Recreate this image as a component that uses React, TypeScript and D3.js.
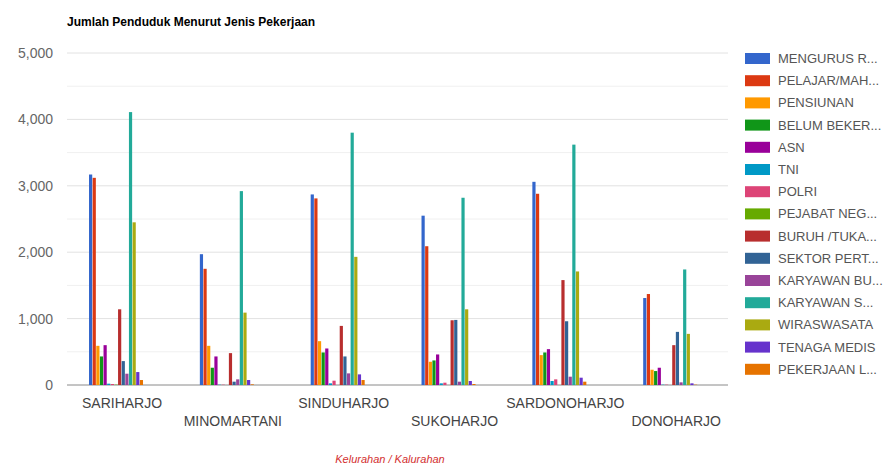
import React from "react";
import * as d3 from "d3";

const categories = ["SARIHARJO", "MINOMARTANI", "SINDUHARJO", "SUKOHARJO", "SARDONOHARJO", "DONOHARJO"];

const seriesNames = [
  "MENGURUS R...", "PELAJAR/MAH...", "PENSIUNAN", "BELUM BEKER...", "ASN", "TNI", "POLRI",
  "PEJABAT NEG...", "BURUH /TUKA...", "SEKTOR PERT...", "KARYAWAN BU...", "KARYAWAN S...",
  "WIRASWASATA", "TENAGA MEDIS", "PEKERJAAN L...",
];

const seriesColors = [
  "#3366cc", "#dc3912", "#ff9900", "#109618", "#990099", "#0099c6", "#dd4477",
  "#66aa00", "#b82e2e", "#316395", "#994499", "#22aa99", "#aaaa11", "#6633cc", "#e67300",
];

// values[category][series]
const sariharjo = [3170, 3120, 590, 430, 600, 20, 15, 5, 1140, 360, 170, 4110, 2450, 195, 75];
const minomartani = [1970, 1750, 590, 260, 430, 5, 5, 0, 480, 50, 85, 2920, 1090, 75, 10];
const sinduharjo = [2870, 2810, 660, 490, 550, 25, 65, 0, 890, 430, 175, 3800, 1930, 160, 75];
const sukoharjo = [2550, 2090, 350, 370, 460, 25, 35, 0, 975, 980, 50, 2820, 1140, 60, 15];
const sardonoharjo = [3060, 2880, 450, 490, 540, 60, 85, 0, 1580, 960, 125, 3620, 1710, 110, 50];
const donoharjo = [1310, 1370, 230, 210, 260, 5, 5, 0, 600, 800, 40, 1740, 770, 25, 5];

const values = [sariharjo, minomartani, sinduharjo, sukoharjo, sardonoharjo, donoharjo];

const majorTicks = [0, 1000, 2000, 3000, 4000, 5000];
const minorTicks = [500, 1500, 2500, 3500, 4500];

const titleText = "Jumlah Penduduk Menurut Jenis Pekerjaan";
const xAxisTitle = "Kelurahan / Kalurahan";

const FONT = "'Liberation Sans', Arial, Helvetica, sans-serif";

export default function App() {
  const width = 896;
  const height = 466;
  const plotLeft = 67;
  const plotRight = 728;

  const y = d3.scaleLinear().domain([0, 5000]).range([385, 53]);
  const x = d3.scaleBand<string>().domain(categories).range([60.6, 725.6]);
  const inner = d3
    .scaleBand<number>()
    .domain(d3.range(seriesNames.length))
    .range([-27, 27])
    .paddingInner(0.12);
  const fmt = d3.format(",");

  const legendY = d3.scaleLinear().domain([0, 1]).range([58, 80.2]);

  return (
    <div style={{ position: "fixed", left: 0, top: 0, width, height, overflow: "hidden" }}>
      <svg width={width} height={height} style={{ display: "block", background: "#fff" }} fontFamily={FONT}>
        <text x={67} y={26} fontSize={12} fontWeight="bold" fill="#000">
          {titleText}
        </text>

        {minorTicks.map((t) => (
          <line key={"m" + t} x1={plotLeft} x2={plotRight} y1={y(t)} y2={y(t)} stroke="#f0f0f0" strokeWidth={1} />
        ))}
        {majorTicks.map((t) => (
          <line
            key={"M" + t}
            x1={plotLeft}
            x2={plotRight}
            y1={y(t)}
            y2={y(t)}
            stroke={t === 0 ? "#8a8a8a" : "#e2e2e2"}
            strokeWidth={1}
          />
        ))}
        {majorTicks.map((t) => (
          <text key={"l" + t} x={53} y={y(t) + 5} textAnchor="end" fontSize={14} fill="#666">
            {fmt(t)}
          </text>
        ))}

        {categories.map((c, ci) =>
          values[ci].map((v, si) => (
            <rect
              key={c + si}
              x={(x(c) as number) + x.bandwidth() / 2 + (inner(si) as number)}
              y={y(v)}
              width={inner.bandwidth()}
              height={y(0) - y(v)}
              fill={seriesColors[si]}
            />
          ))
        )}

        {categories.map((c, ci) => (
          <text
            key={"x" + c}
            x={(x(c) as number) + x.bandwidth() / 2 + 6}
            y={ci % 2 === 0 ? 408 : 426}
            textAnchor="middle"
            fontSize={14}
            fill="#444"
          >
            {c}
          </text>
        ))}

        <text x={390} y={463} textAnchor="middle" fontSize={11} fontStyle="italic" fill="#d32f2f">
          {xAxisTitle}
        </text>

        {seriesNames.map((n, i) => (
          <g key={"lg" + n} transform={`translate(0,${legendY(i)})`}>
            <rect x={745} y={-5} width={25} height={11} fill={seriesColors[i]} />
            <text x={778} y={5} fontSize={13} fill="#555">
              {n}
            </text>
          </g>
        ))}
      </svg>
    </div>
  );
}
